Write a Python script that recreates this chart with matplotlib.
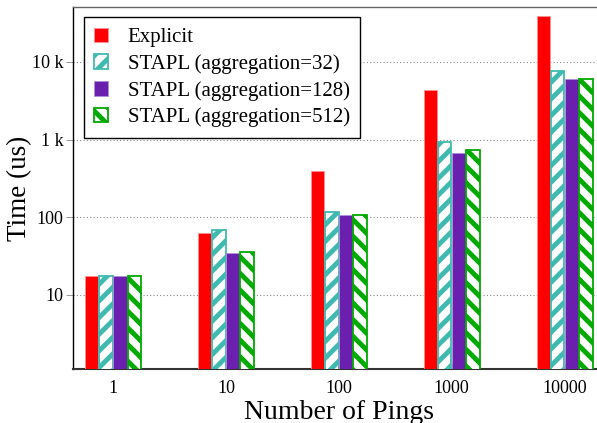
import numpy as np
import matplotlib
matplotlib.use("Agg")
import matplotlib.pyplot as plt
from matplotlib.ticker import FixedLocator, FixedFormatter, NullLocator

plt.rcParams['font.family'] = ['Liberation Serif', 'DejaVu Serif']
plt.rcParams['hatch.linewidth'] = 3.5

# data (time in us, log scale)
pings = ["1", "10", "100", "1000", "10000"]
explicit = [17.2, 62, 395, 4400, 39000]
stapl_32 = [17.2, 69, 116, 940, 7700]
stapl_128 = [17.2, 34, 108, 665, 6040]
stapl_512 = [17.2, 35.7, 108, 736, 6080]

labels = ["Explicit", "STAPL (aggregation=32)",
          "STAPL (aggregation=128)", "STAPL (aggregation=512)"]
yticks = [10, 100, 1000, 10000]
yticklabels = ["10", "100", "1 k", "10 k"]

series = [explicit, stapl_32, stapl_128, stapl_512]
faces = ["#ff0000", "white", "#6a1fae", "white"]
edges = ["#ff9090", "#40bab0", "#b090d8", "#00aa00"]
hatches = [None, "//", None, "\\\\"]

fig = plt.figure(figsize=(5.97, 4.23), dpi=100)
ax = fig.add_axes([0.1231, 0.1277, 0.889, 0.8558])

x = np.arange(len(pings))
slot = 0.1257
w = 0.12
for i, (vals, fc, ec, h, lab) in enumerate(zip(series, faces, edges, hatches, labels)):
    if h:
        ax.bar(x + (i - 1.5) * slot, vals, w, bottom=0.5, facecolor=fc, edgecolor=ec,
               hatch=h, linewidth=1.3, label=lab, zorder=3)
    else:
        ax.bar(x + (i - 1.5) * slot, vals, w, bottom=0.5, facecolor=fc, edgecolor=ec,
               linewidth=0.6, label=lab, zorder=3)

ax.set_yscale('log')
ax.set_ylim(1.115, 51000)
ax.set_xlim(-0.35, 4.35)
ax.yaxis.set_major_locator(FixedLocator(yticks))
ax.yaxis.set_major_formatter(FixedFormatter(yticklabels))
ax.yaxis.set_minor_locator(NullLocator())
ax.set_xticks(x)
ax.set_xticklabels(pings)

ax.grid(axis='y', linestyle=(0, (1, 2)), color='#888888', linewidth=0.8, zorder=0)
ax.tick_params(axis='y', which='major', direction='out', length=5, width=0.7,
               color='#999999', labelsize=13, pad=2)
ax.tick_params(axis='x', which='major', direction='in', length=4, width=0.8,
               color='#333333', labelsize=13, pad=8)

ax.spines['left'].set_color('black')
ax.spines['left'].set_linewidth(1.0)
ax.spines['bottom'].set_color('#333333')
ax.spines['bottom'].set_linewidth(1.5)
ax.spines['top'].set_color('#666666')
ax.spines['top'].set_linewidth(1.0)
ax.spines['right'].set_visible(False)

ax.set_xlabel("Number of Pings", fontsize=20, labelpad=2)
ax.set_ylabel("Time (us)", fontsize=19.5)
# right edge of the rotated label sits about 32 px from the figure's left edge
ax.yaxis.set_label_coords(-(73.5 - 32) / 531.0, 0.5)

leg = ax.legend(loc='upper left', fontsize=15, frameon=True, fancybox=False,
                framealpha=1, edgecolor='black', handlelength=0.65, handleheight=0.7,
                handletextpad=0.95, labelspacing=0.33, borderaxespad=0.5, borderpad=0.5)
leg.get_frame().set_linewidth(1.0)

fig.savefig("out.png", dpi=100)
